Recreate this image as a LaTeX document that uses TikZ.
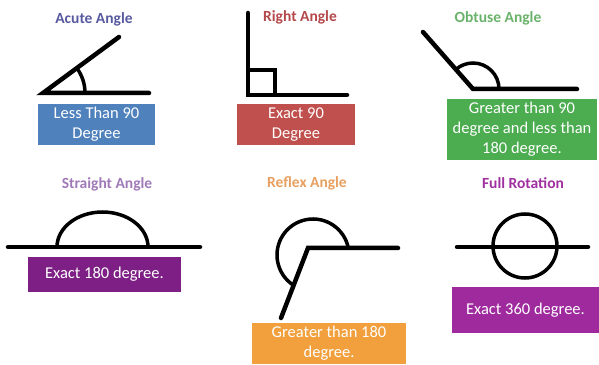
\documentclass[tikz,border=0pt]{standalone}
\usepackage{fontspec}
\setmainfont{Carlito}
\usetikzlibrary{calc}

\definecolor{acuteblue}{RGB}{79,129,189}
\definecolor{acutetitle}{RGB}{88,90,160}
\definecolor{rightred}{RGB}{192,80,77}
\definecolor{righttitle}{RGB}{180,72,74}
\definecolor{obtusegreen}{RGB}{76,172,80}
\definecolor{obtusetitle}{RGB}{106,178,106}
\definecolor{straightpurple}{RGB}{126,31,134}
\definecolor{straighttitle}{RGB}{160,122,184}
\definecolor{reflexorange}{RGB}{242,160,61}
\definecolor{reflextitle}{RGB}{232,160,96}
\definecolor{fullpurple}{RGB}{158,42,158}
\definecolor{fulltitle}{RGB}{160,48,160}

\begin{document}
\begin{tikzpicture}[x=1pt, y=1pt,
    angletitle/.style={font=\bfseries\fontsize{15.5}{17}\selectfont},
    infobox/.style={text=white, align=center, inner sep=0pt,
        font=\fontsize{16.5}{20}\selectfont},
    ray/.style={line width=4.5pt, line cap=round},
    anglemark/.style={line width=3.5pt}]

    \useasboundingbox (0, 0) rectangle (599, 364);

    % Acute angle
    \node (acute_title) at (94, 345) [angletitle, text=acutetitle] {Acute Angle};
    \node (acute_box) at (96.5, 239.5) [infobox, fill=acuteblue,
        minimum width=117, minimum height=41] {Less Than 90\\Degree};
    \coordinate (acute_vertex) at (43, 271);
    \draw [ray] (149, 271) -- (acute_vertex) -- (119, 327);
    \draw [anglemark] ($(acute_vertex) + (0:42)$) arc [start angle=0, end angle=36.4, radius=42];

    % Right angle
    \node (right_title) at (300, 347) [angletitle, text=righttitle] {Right Angle};
    \node (right_box) at (296, 239.5) [infobox, fill=rightred,
        minimum width=118, minimum height=41] {Exact 90\\Degree};
    \coordinate (right_vertex) at (248, 269);
    \draw [ray] (248, 351) -- (right_vertex) -- (347, 269);
    \draw [anglemark] (right_vertex) rectangle ($(right_vertex) + (27, 25)$);

    % Obtuse angle
    \node (obtuse_title) at (498, 346) [angletitle, text=obtusetitle] {Obtuse Angle};
    \node (obtuse_box) at (522, 234.5) [infobox, fill=obtusegreen,
        minimum width=150, minimum height=61] {Greater than 90\\degree and less than\\180 degree.};
    \coordinate (obtuse_vertex) at (473, 275);
    \draw [ray] (577, 275) -- (obtuse_vertex) -- (423, 332);
    \draw [anglemark] ($(obtuse_vertex) + (0:26)$) arc [start angle=0, end angle=131, radius=26];

    % Straight angle
    \node (straight_title) at (107, 180) [angletitle, text=straighttitle] {Straight Angle};
    \node (straight_box) at (104.5, 89.5) [infobox, fill=straightpurple,
        minimum width=153, minimum height=35] {Exact 180 degree.};
    \coordinate (straight_vertex) at (102.5, 117);
    \draw [ray] (8, 117) -- (200, 117);
    \draw [anglemark] ($(straight_vertex) + (45.5, 0)$) arc [start angle=0, end angle=180,
        x radius=45.5, y radius=35];

    % Reflex angle
    \node (reflex_title) at (307, 181) [angletitle, text=reflextitle] {Reflex Angle};
    \node (reflex_box) at (329, 20.5) [infobox, fill=reflexorange,
        minimum width=154, minimum height=41] {Greater than 180\\degree.};
    \coordinate (reflex_vertex) at (308, 116);
    \coordinate (reflex_centre) at (313, 109);
    \draw [ray] (398, 116) -- (reflex_vertex) -- (281, 46);
    \draw [anglemark] ($(reflex_centre) + (11:36)$) arc [start angle=11, end angle=237, radius=36];

    % Full rotation
    \node (full_title) at (523, 181) [angletitle, text=fulltitle] {Full Rotation};
    \node (full_box) at (525.5, 54) [infobox, fill=fullpurple,
        minimum width=147, minimum height=46] {Exact 360 degree.};
    \coordinate (full_centre) at (525, 118);
    \draw [ray] (457, 117) -- (588, 117);
    \draw [anglemark] (full_centre) circle [radius=32];
\end{tikzpicture}
\end{document}
